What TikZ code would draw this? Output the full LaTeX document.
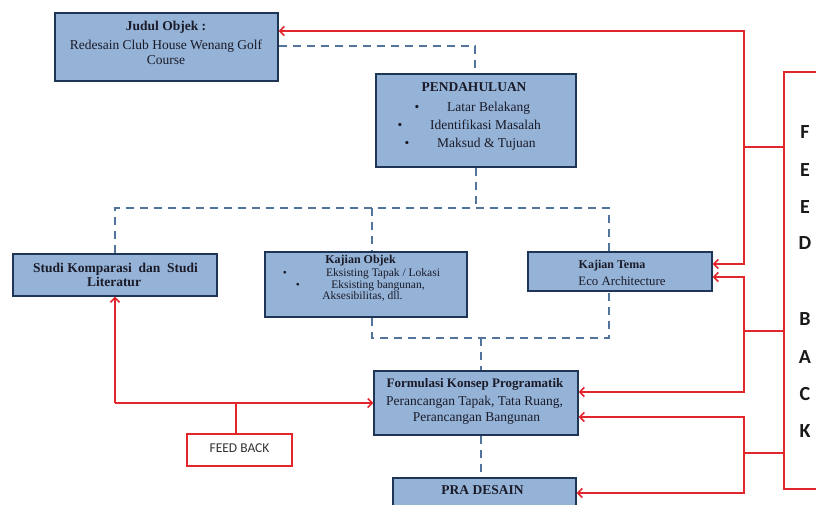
\documentclass[tikz,border=0pt]{standalone}
\usepackage{fontspec}
\setmainfont{Liberation Serif}
\newfontfamily\sansf{Carlito}
\usetikzlibrary{arrows.meta}
\definecolor{boxfill}{HTML}{95B3D7}
\definecolor{boxline}{HTML}{1F3556}
\definecolor{redc}{HTML}{E3262C}
\definecolor{dashc}{HTML}{52739B}
\definecolor{txtc}{HTML}{1A1A28}
\tikzset{
  box/.style={draw=boxline, line width=1.4pt, fill=boxfill, inner sep=0pt},
  ln/.style={anchor=base, inner sep=0pt, text=txtc, font=\fontsize{13.5}{14}\selectfont},
  lnb/.style={ln, font=\fontsize{13.5}{14}\selectfont\bfseries},
  lnw/.style={ln, anchor=base west},
  bul/.style={ln},
  dashln/.style={draw=dashc, line width=1.3pt, dash pattern=on 8pt off 6pt},
  redln/.style={draw=redc, line width=1.5pt},
  redarr/.style={redln, -{Straight Barb[length=4.5pt,width=9pt,line width=1.5pt]}},
  letter/.style={anchor=base, inner sep=0pt, font=\sansf\bfseries\fontsize{20}{20}\selectfont, text=black!90}
}
\begin{document}
\begin{tikzpicture}[x=1pt,y=-1pt]
\useasboundingbox (0,0) rectangle (816,504);
\clip (0,0) rectangle (816,504);
\fill[white] (0,0) rectangle (816,504);

% boxes
\node[box, minimum width=223pt, minimum height=68pt] (judul) at (166.5,47) {};
\node[box, minimum width=200pt, minimum height=93pt] (pend) at (476,120.5) {};
\node[box, minimum width=204pt, minimum height=42pt] (studi) at (115,275) {};
\node[box, minimum width=202pt, minimum height=65pt] (objek) at (366,284.5) {};
\node[box, minimum width=184pt, minimum height=39pt] (tema) at (620,271.5) {};
\node[box, minimum width=204pt, minimum height=64pt] (form) at (476,403) {};
\node[box, minimum width=183pt, minimum height=50pt] (pra) at (484.5,503) {};
\node[draw=redc, line width=2pt, fill=white, minimum width=105pt, minimum height=32pt, inner sep=0pt] (fbsmall) at (239.5,450) {};
\node[draw=redc, line width=1.5pt, minimum width=80pt, minimum height=417pt, inner sep=0pt] (fbbig) at (824,280.5) {};

% Judul text
\node[lnb] (j1) at (166,30) {Judul Objek :};
\node[ln] (j2) at (166,49) {Redesain Club House Wenang Golf};
\node[ln] (j3) at (166,64) {Course};

% Pendahuluan text
\node[lnb] (p0) at (474,91) {PENDAHULUAN};
\node[bul] (pb1) at (417,111) {•};
\node[lnw] (p1) at (447,111) {Latar Belakang};
\node[bul] (pb2) at (400,129) {•};
\node[lnw] (p2) at (430,129) {Identifikasi Masalah};
\node[bul] (pb3) at (407,147) {•};
\node[lnw] (p3) at (437,147) {Maksud \& Tujuan};

% Studi text
\node[lnb] (s1) at (115.5,272) {Studi Komparasi\ \ dan\ \ Studi};
\node[lnb] (s2) at (114,286) {Literatur};

% Kajian Objek text
\tikzset{lns/.style={ln, font=\fontsize{11.5}{12}\selectfont}}
\node[lns, font=\fontsize{12}{13}\selectfont\bfseries] (o0) at (360.5,263) {Kajian Objek};
\node[lns] (ob1) at (285,276) {•};
\node[lns] (o1) at (383,276) {Eksisting Tapak / Lokasi};
\node[lns] (ob2) at (298,288) {•};
\node[lns] (o2) at (378,288) {Eksisting bangunan,};
\node[lns] (o3) at (362.5,299.5) {Aksesibilitas, dll.};

% Kajian Tema text
\node[lnb, font=\fontsize{12}{13}\selectfont\bfseries] (t1) at (612,268) {Kajian Tema};
\node[ln, font=\fontsize{12.8}{13}\selectfont] (t2) at (622,285) {Eco Architecture};

% Formulasi text
\node[lnb, font=\fontsize{13}{14}\selectfont\bfseries] (f1) at (475,387) {Formulasi Konsep Programatik};
\node[ln] (f2) at (474.5,405) {Perancangan Tapak, Tata Ruang,};
\node[ln] (f3) at (476.5,421) {Perancangan Bangunan};

% Pra desain
\node[lnb] (pr1) at (482.5,494) {PRA DESAIN};

% Feed back small
\node[anchor=base, inner sep=0pt, font=\sansf\fontsize{13.5}{14}\selectfont, text=black!80] (fbt) at (239.5,452) {FEED BACK};

% Feed back letters
\foreach \l/\yy/\nm in {F/138/lf1, E/176/lf2, E/213/lf3, D/249/lf4, B/325/lf5, A/363/lf6, C/400/lf7, K/437/lf8}
  \node[letter] (\nm) at (805,\yy) {\l};

% dashed connectors
\coordinate (d1) at (475,46);
\draw[dashln] (d1 -| judul.east) -- (d1) -- (d1 |- pend.north);
\coordinate (d2) at (476,208);
\draw[dashln] (d2 |- pend.south) -- (d2);
\coordinate (dL) at (115,208);
\coordinate (dM) at (372,208);
\coordinate (dR) at (609,208);
\draw[dashln] (dL |- studi.north) -- (dL) -- (dR) -- (dR |- tema.north);
\draw[dashln] (dM) -- (dM |- objek.north);
\coordinate (e1) at (372,338);
\coordinate (e2) at (609,338);
\coordinate (e3) at (481,338);
\draw[dashln] (e1 |- objek.south) -- (e1) -- (e2) -- (e2 |- tema.south);
\draw[dashln] (e3) -- (e3 |- form.north);
\draw[dashln] (e3 |- form.south) -- (e3 |- pra.north);

% red feedback lines (right)
\coordinate (sA) at (744,147);
\coordinate (sA1) at (744,31);
\coordinate (sA2) at (744,264);
\draw[redln] (sA -| fbbig.west) -- (sA);
\draw[redarr] (sA) -- (sA1) -- (sA1 -| judul.east);
\draw[redarr] (sA) -- (sA2) -- (sA2 -| tema.east);

\coordinate (sB) at (744,331);
\coordinate (sB1) at (744,277);
\coordinate (sB2) at (744,392);
\draw[redln] (sB -| fbbig.west) -- (sB);
\draw[redarr] (sB) -- (sB1) -- (sB1 -| tema.east);
\draw[redarr] (sB) -- (sB2) -- (sB2 -| form.east);

\coordinate (sC) at (744,453);
\coordinate (sC1) at (744,417);
\coordinate (sC2) at (744,493);
\draw[redln] (sC -| fbbig.west) -- (sC);
\draw[redarr] (sC) -- (sC1) -- (sC1 -| form.east);
\draw[redarr] (sC) -- (sC2) -- (sC2 -| pra.east);

% red feedback loop (left)
\coordinate (lp) at (115,403);
\coordinate (lj) at (236,403);
\draw[redarr] (lp) -- (lp -| form.west);
\draw[redarr] (lp) -- (lp |- studi.south);
\draw[redln] (lj |- fbsmall.north) -- (lj);
\end{tikzpicture}
\end{document}
